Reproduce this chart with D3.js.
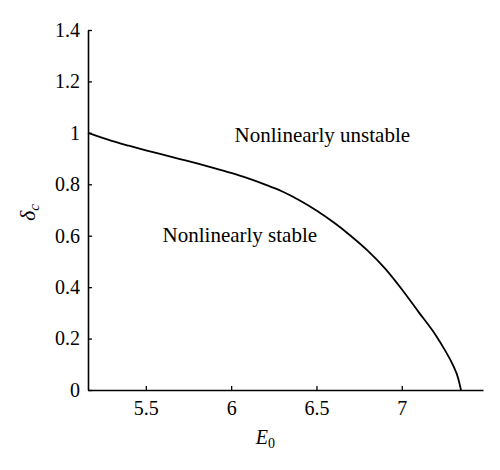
<!DOCTYPE html>
<html>
<head>
<meta charset="utf-8">
<script src="https://cdn.jsdelivr.net/npm/d3@7"></script>
<style>
  body { margin: 0; background: #fff; }
  svg text { font-family: "Liberation Serif", "DejaVu Serif", serif; fill: #000; }
</style>
</head>
<body>
<div id="chart"></div>
<script>
// curve: E0 vs critical delta
const e0 = [5.161, 5.3, 5.4, 5.5, 5.6, 5.7, 5.8, 5.9, 6.0, 6.1, 6.2, 6.3, 6.4, 6.5, 6.6, 6.7, 6.8, 6.9, 7.0, 7.1, 7.2, 7.25, 7.3, 7.33, 7.347];
const delta = [1.0, 0.969, 0.950, 0.932, 0.915, 0.898, 0.881, 0.863, 0.844, 0.823, 0.799, 0.772, 0.738, 0.698, 0.652, 0.600, 0.542, 0.474, 0.392, 0.302, 0.212, 0.158, 0.097, 0.047, 0];
const xTicks = [5.5, 6, 6.5, 7];
const yTicks = [0, 0.2, 0.4, 0.6, 0.8, 1, 1.2, 1.4];
const regionLabels = ["Nonlinearly unstable", "Nonlinearly stable"];

const width = 500, height = 470;
const margin = {top: 30, right: 17, bottom: 80, left: 88};

const svg = d3.select("#chart").append("svg")
    .attr("width", width)
    .attr("height", height);

const x = d3.scaleLinear()
    .domain([5.161, 7.476])
    .range([margin.left, width - margin.right]);
const y = d3.scaleLinear()
    .domain([0, 1.4])
    .range([height - margin.bottom, margin.top]);

// axes, ticks pointing inward
const xAxis = svg.append("g")
    .attr("transform", "translate(0," + y(0) + ")")
    .call(d3.axisBottom(x).tickValues(xTicks).tickFormat(d3.format("")).tickSizeInner(-4).tickSizeOuter(0).tickPadding(11));
const yAxis = svg.append("g")
    .attr("transform", "translate(" + margin.left + ",0)")
    .call(d3.axisLeft(y).tickValues(yTicks).tickFormat(d3.format("")).tickSizeInner(-4).tickSizeOuter(0).tickPadding(8));

[xAxis, yAxis].forEach(g => {
  g.attr("font-family", "Liberation Serif").attr("font-size", 20);
  g.select(".domain").attr("stroke", "#000").attr("stroke-width", 1.6);
  g.selectAll(".tick line").attr("stroke", "#000").attr("stroke-width", 1.3);
  g.selectAll(".tick text")
      .style("font-family", "'Liberation Serif', serif")
      .style("font-size", "20px")
      .attr("fill", "#000");
});

// the stability boundary
const line = d3.line()
    .x((d, i) => x(e0[i]))
    .y(d => y(d))
    .curve(d3.curveMonotoneX);

svg.append("path")
    .datum(delta)
    .attr("d", line)
    .attr("fill", "none")
    .attr("stroke", "#000")
    .attr("stroke-width", 1.8);

// region labels
svg.append("text")
    .attr("x", x(6.02))
    .attr("y", y(0.964))
    .style("font-size", "21px")
    .text(regionLabels[0]);
svg.append("text")
    .attr("x", x(5.598))
    .attr("y", y(0.577))
    .style("font-size", "21px")
    .text(regionLabels[1]);

// axis titles
const xt = svg.append("text")
    .attr("x", x(6.2))
    .attr("y", 444)
    .attr("text-anchor", "middle")
    .style("font-size", "20px");
xt.append("tspan").style("font-style", "italic").text("E");
xt.append("tspan").attr("dy", 4).style("font-size", "14px").text("0");

const yt = svg.append("text")
    .attr("transform", "translate(35," + y(0.69) + ") rotate(-90)")
    .attr("text-anchor", "middle")
    .style("font-size", "22px");
yt.append("tspan").style("font-style", "italic").text("δ");
yt.append("tspan").attr("dy", 4).style("font-size", "15px").style("font-style", "italic").text("c");
</script>
</body>
</html>
